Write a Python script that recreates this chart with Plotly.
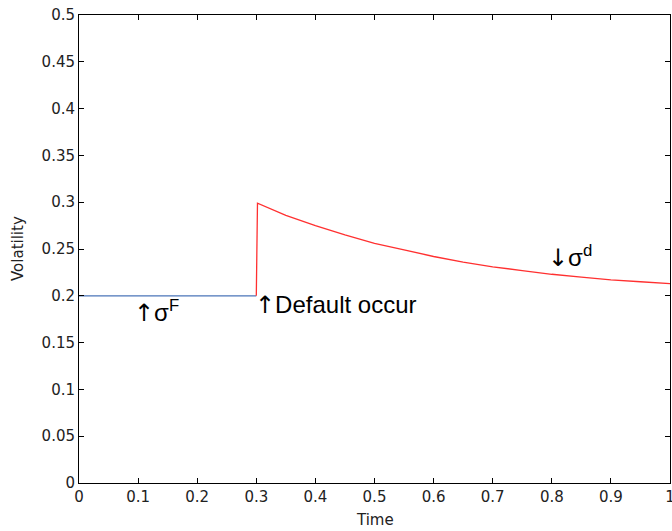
import plotly.graph_objects as go

# Pre-default volatility (blue)
t_pre = [0.0, 0.1, 0.2, 0.3]
v_pre = [0.2, 0.2, 0.2, 0.2]

# Post-default volatility (red)
t_post = [0.3, 0.302, 0.35, 0.4, 0.45, 0.5, 0.55, 0.6, 0.65, 0.7, 0.75, 0.8, 0.85, 0.9, 0.95, 1.0]
v_post = [0.2, 0.299, 0.286, 0.275, 0.265, 0.256, 0.249, 0.242, 0.236, 0.231, 0.227, 0.223, 0.220, 0.217, 0.215, 0.213]

x_ticks = [0, 0.1, 0.2, 0.3, 0.4, 0.5, 0.6, 0.7, 0.8, 0.9, 1]
x_tick_text = ["0", "0.1", "0.2", "0.3", "0.4", "0.5", "0.6", "0.7", "0.8", "0.9", "1"]
y_ticks = [0, 0.05, 0.1, 0.15, 0.2, 0.25, 0.3, 0.35, 0.4, 0.45, 0.5]
y_tick_text = ["0", "0.05", "0.1", "0.15", "0.2", "0.25", "0.3", "0.35", "0.4", "0.45", "0.5"]

fig = go.Figure()
fig.add_trace(go.Scatter(x=t_pre, y=v_pre, mode="lines",
                         line=dict(color="#4a74b8", width=1.3), showlegend=False))
fig.add_trace(go.Scatter(x=t_post, y=v_post, mode="lines",
                         line=dict(color="#ff3030", width=1.3), showlegend=False))

font_main = "Liberation Sans, Arial, sans-serif"
font_axis = "DejaVu Sans, sans-serif"
ann_font = dict(family=font_main, size=24, color="black")
up = '<span style="font-family:DejaVu Sans">↑</span>'
down = '<span style="font-family:DejaVu Sans">↓</span>'
fig.add_annotation(x=0.09, y=0.1827, xref="x", yref="y", text=up + "σ<sup>F</sup>",
                   showarrow=False, xanchor="left", yanchor="middle", font=ann_font)
fig.add_annotation(x=0.2945, y=0.190, xref="x", yref="y", text=up + "Default occur",
                   showarrow=False, xanchor="left", yanchor="middle", font=ann_font)
fig.add_annotation(x=0.79, y=0.2425, xref="x", yref="y", text=down + "σ<sup>d</sup>",
                   showarrow=False, xanchor="left", yanchor="middle", font=ann_font)

# axis titles
title_font = dict(family=font_axis, size=15, color="#222")
fig.add_annotation(x=0.5, y=0, xref="paper", yref="paper", yshift=-37, text="Time",
                   showarrow=False, xanchor="center", yanchor="middle", font=title_font)
fig.add_annotation(x=0, y=0.5, xref="paper", yref="paper", xshift=-61, text="Volatility",
                   textangle=-90, showarrow=False, xanchor="center", yanchor="middle", font=title_font)

axis_common = dict(showline=True, linecolor="black", linewidth=1, mirror="ticks",
                   ticks="inside", ticklen=5, tickcolor="black", showgrid=False,
                   zeroline=False, automargin=False, ticklabeloverflow="allow",
                   tickfont=dict(family=font_axis, size=15, color="#222"))

fig.update_xaxes(range=[0, 1], tickvals=x_ticks, ticktext=x_tick_text, **axis_common)
fig.update_yaxes(range=[0, 0.5], tickvals=y_ticks, ticktext=y_tick_text, **axis_common)

fig.update_layout(width=672, height=531, margin=dict(l=79, r=2, t=15, b=48),
                  plot_bgcolor="white", paper_bgcolor="white")

fig.write_html("out.html", config={"displayModeBar": False},
               post_script="document.body.style.margin='0';document.body.style.overflow='hidden';")
